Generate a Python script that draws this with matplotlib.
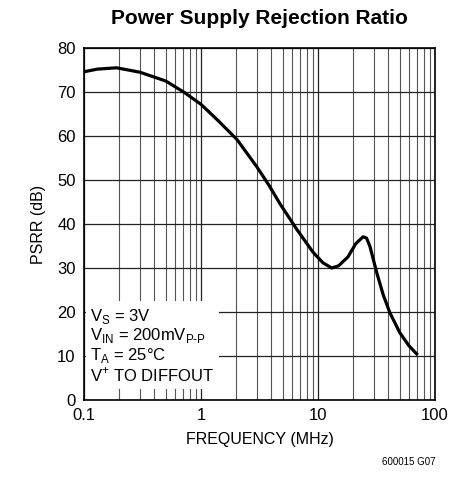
import numpy as np
import matplotlib
matplotlib.use("Agg")
import matplotlib.pyplot as plt
from matplotlib.ticker import FixedLocator, NullFormatter

plt.rcParams['font.family'] = ['Liberation Sans', 'DejaVu Sans']

freq = [0.1, 0.13, 0.19, 0.3, 0.5, 0.72, 1.0, 1.4, 2.03, 3.0, 3.81, 4.73, 6.58, 9.06,
        11.0, 13.1, 15.0, 18.0, 21.0, 24.3, 26.0, 27.8, 31.8, 36.0, 41.2, 50.0, 60.0, 69.6]
psrr = [74.6, 75.2, 75.5, 74.5, 72.5, 69.9, 67.2, 63.5, 59.2, 53.0, 48.8, 44.6, 38.8, 33.6,
        31.2, 30.0, 30.5, 32.5, 35.5, 37.1, 36.8, 34.9, 28.9, 24.0, 19.8, 15.3, 12.3, 10.5]

fig = plt.figure(figsize=(4.58, 4.86), dpi=100)
ax = fig.add_axes([84/458, 1-400/486, 351/458, 352/486])
ax.set_xscale('log')
ax.set_xlim(0.1, 100)
ax.set_ylim(0, 80)

minors = [m*d for d in (0.1, 1, 10) for m in range(2, 10)]
ax.xaxis.set_minor_locator(FixedLocator(minors))
ax.xaxis.set_minor_formatter(NullFormatter())
ax.set_xticks([0.1, 1, 10, 100])
ax.set_xticklabels(['0.1', '1', '10', '100'])
ax.set_yticks(range(0, 81, 10))
ax.tick_params(which='both', length=0, labelsize=12, pad=6)
ax.grid(True, which='major', color='#222222', lw=0.9)
ax.grid(True, which='minor', axis='x', color='#555555', lw=0.8)
for s in ax.spines.values():
    s.set_linewidth(1.2)

ax.plot(freq, psrr, color='black', lw=2.3, zorder=3, solid_joinstyle='round')

ax.text(0.113, 3.5, 'V$_\\mathregular{S}$ = 3V\nV$_\\mathregular{IN}$ = 200mV$_\\mathregular{P\u2010P}$\n'
        'T$_\\mathregular{A}$ = 25°C\nV$^\\mathregular{+}$ TO DIFFOUT',
        fontsize=12, linespacing=1.05, va='bottom', ha='left', zorder=4,
        bbox=dict(facecolor='white', edgecolor='none', pad=3))

ax.set_xlabel('FREQUENCY (MHz)', fontsize=11.5, labelpad=6)
ax.set_ylabel('PSRR (dB)', fontsize=11.5, labelpad=8)
fig.text(259/458, 1-18/486, 'Power Supply Rejection Ratio', fontsize=15,
         fontweight='bold', ha='center', va='center')
fig.text(435/458, 1-462/486, '600015 G07', fontsize=7, ha='right', va='center')

fig.savefig('out.png', dpi=100)
